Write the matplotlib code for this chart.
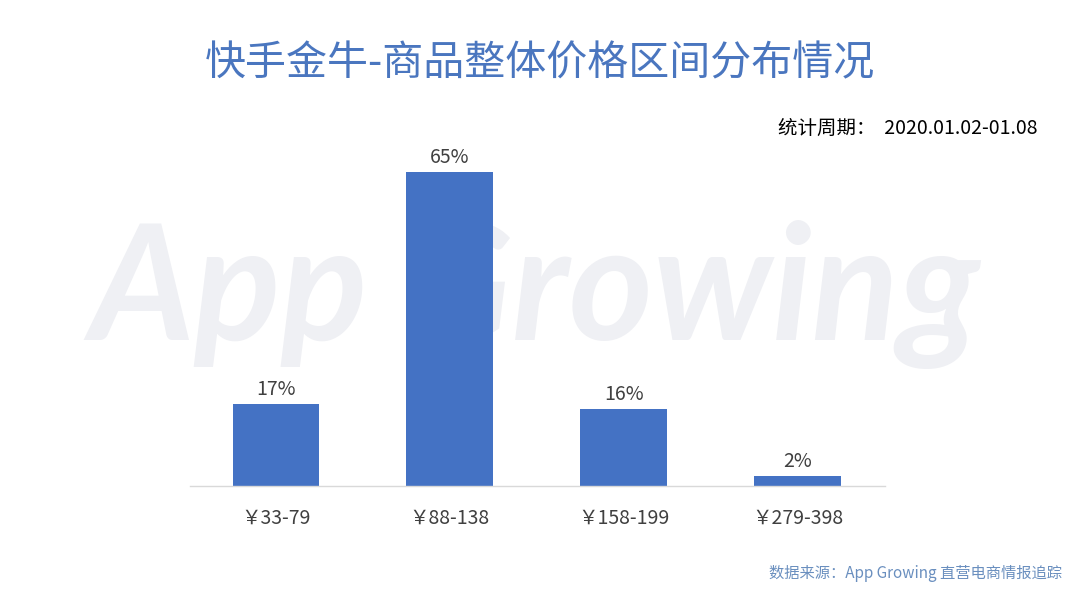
import matplotlib
matplotlib.use("Agg")
import matplotlib.pyplot as plt
import numpy as np

plt.rcParams['font.family'] = ['Noto Sans CJK SC', 'DejaVu Sans']

# 数据
categories = ["￥33-79", "￥88-138", "￥158-199", "￥279-398"]
shares = [17, 65, 16, 2]

TITLE = "快手金牛-商品整体价格区间分布情况"
PERIOD = "统计周期：  2020.01.02-01.08"
SOURCE = "数据来源：App Growing 直营电商情报追踪"

BAR_COLOR = "#4472c4"
TEXT_COLOR = "#404040"

fig = plt.figure(figsize=(10.8, 6.08), dpi=100)
fig.patch.set_facecolor("white")

# 水印（放在坐标轴下面）
fig.text(0.495, 0.515, "App Growing", ha="center", va="center",
         fontsize=116, fontweight="bold", style="italic",
         family="Lato", color="#eff0f4", zorder=-1)

ax = fig.add_axes([0.176, 0.2007, 0.643, 0.556])
ax.set_facecolor("none")
ax.set_zorder(1)

x = np.arange(len(categories))
bars = ax.bar(x, shares, width=0.5, color=BAR_COLOR, zorder=2)

for xi, v in zip(x, shares):
    ax.annotate(f"{v}%", (xi, v), textcoords="offset points", xytext=(0, 3),
                ha="center", va="bottom", fontsize=14, color=TEXT_COLOR)

ax.set_xlim(-0.494, 3.5)
ax.set_ylim(0, 70)
ax.set_xticks(x)
ax.set_xticklabels(categories, fontsize=14, color=TEXT_COLOR)
ax.tick_params(axis="x", length=0, pad=16)
ax.set_yticks([])
for side in ("top", "right", "left"):
    ax.spines[side].set_visible(False)
ax.spines["bottom"].set_color("#d9d9d9")
ax.spines["bottom"].set_linewidth(1)

fig.text(0.5, 0.895, TITLE, ha="center", va="center",
         fontsize=29.5, color="#4a76bf")
fig.text(0.961, 0.789, PERIOD, ha="right", va="center",
         fontsize=14, color="black")
fig.text(0.983, 0.056, SOURCE, ha="right", va="center",
         fontsize=11, color="#6a8fbf")

fig.savefig("out.png", dpi=100, facecolor="white")
